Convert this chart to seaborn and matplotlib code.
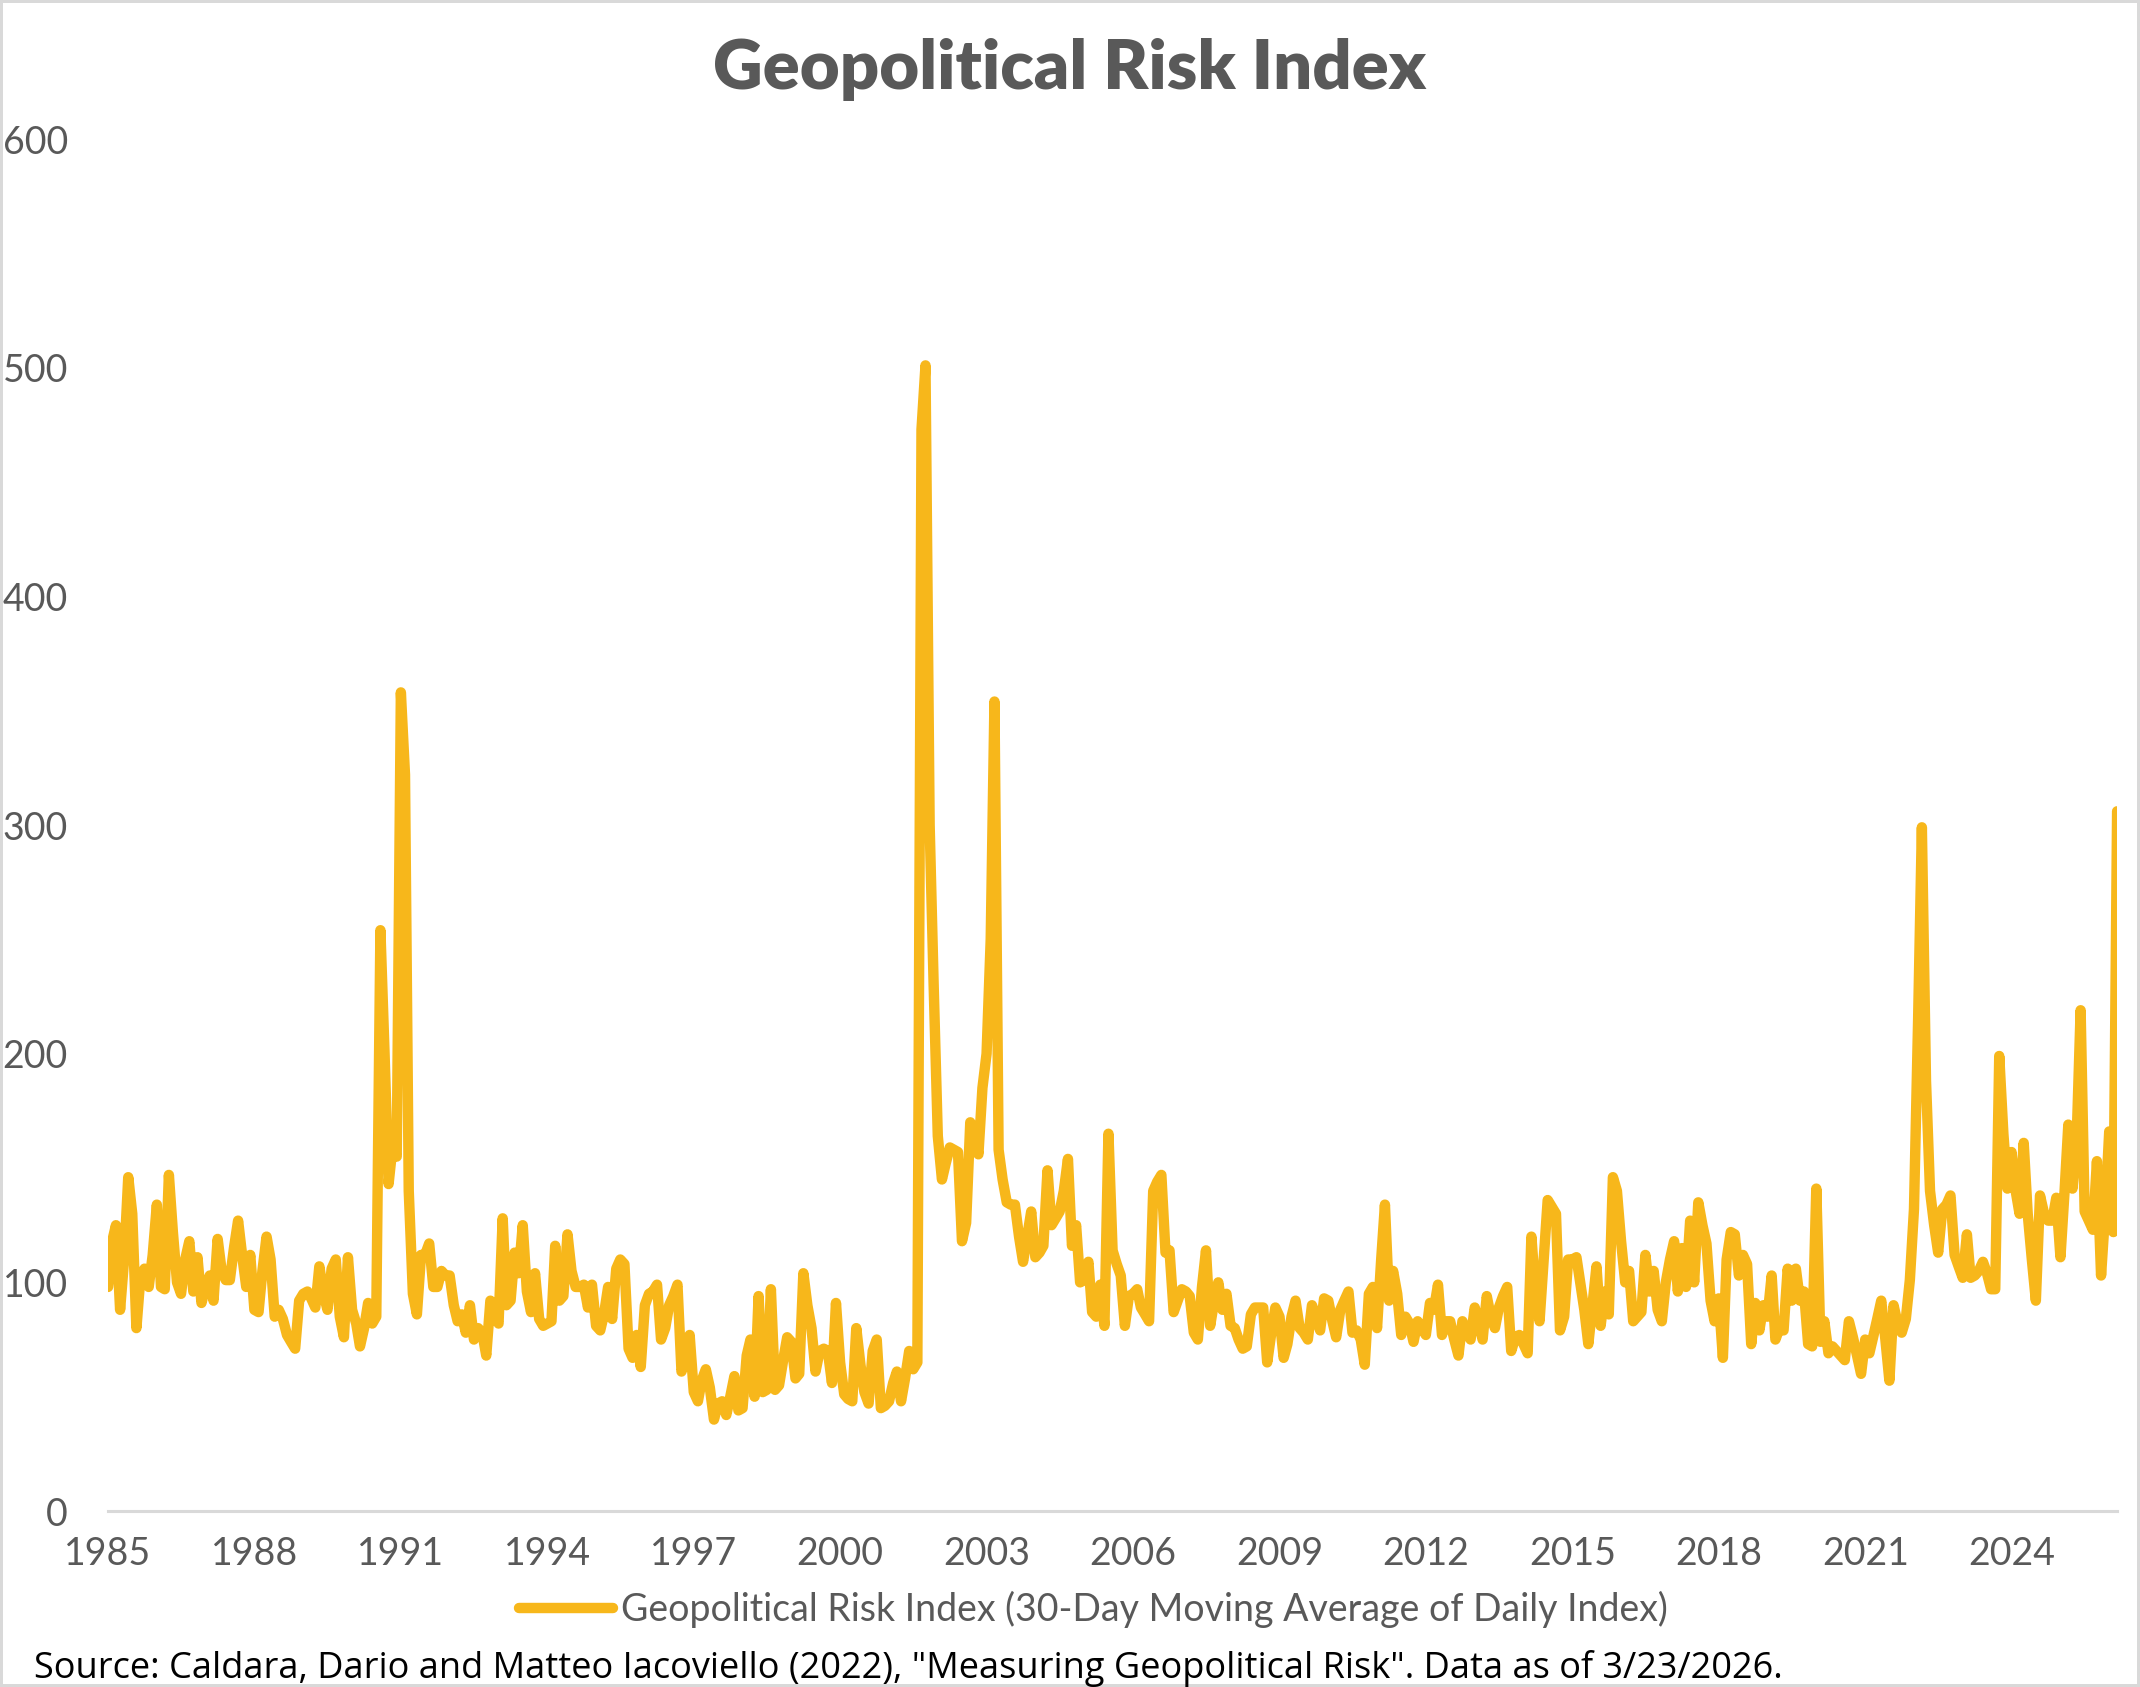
import pandas as pd
import matplotlib
matplotlib.use('Agg')
import matplotlib.pyplot as plt
import matplotlib.dates as mdates
import seaborn as sns

# Monthly readings of the Geopolitical Risk Index (30-day moving average)
gpr_1985_1989 = [
    98, 118, 125, 88, 110, 146, 130, 80, 103, 106, 98, 112,
    134, 98, 97, 147, 122, 100, 95, 110, 118, 96, 111, 91,
    98, 103, 92, 119, 105, 101, 101, 115, 127, 112, 98, 112,
    88, 87, 105, 120, 110, 85, 88, 84, 77, 74, 71, 92,
    95, 96, 93, 89, 107, 95, 88, 106, 110, 85, 76, 111,
]
gpr_1990_1994 = [
    88, 82, 72, 80, 91, 82, 85, 254, 200, 143, 160, 155,
    358, 322, 140, 95, 86, 112, 112, 117, 98, 98, 105, 103,
    103, 90, 83, 86, 78, 90, 75, 80, 78, 68, 92, 86,
    82, 128, 90, 92, 113, 104, 125, 96, 87, 104, 84, 81,
    82, 83, 116, 92, 94, 121, 105, 98, 98, 99, 89, 99,
]
gpr_1995_1999 = [
    81, 79, 86, 98, 84, 106, 110, 108, 71, 67, 77, 63,
    90, 95, 96, 99, 75, 80, 90, 94, 99, 61, 66, 77,
    52, 48, 57, 62, 54, 40, 47, 48, 42, 50, 59, 44,
    45, 68, 75, 50, 94, 52, 53, 97, 53, 55, 66, 76,
    74, 58, 60, 104, 90, 80, 61, 70, 71, 70, 56, 91,
]
gpr_2000_2004 = [
    65, 51, 49, 48, 80, 64, 52, 47, 70, 75, 45, 46,
    48, 56, 61, 48, 58, 70, 62, 65, 473, 501, 300, 230,
    164, 145, 152, 159, 158, 157, 118, 126, 170, 166, 156, 185,
    200, 250, 354, 158, 145, 135, 134, 134, 120, 109, 120, 131,
    111, 113, 116, 149, 125, 128, 131, 140, 154, 116, 125, 100,
]
gpr_2005_2009 = [
    101, 109, 87, 85, 99, 81, 165, 114, 108, 103, 81, 94,
    95, 97, 89, 86, 83, 140, 144, 147, 113, 114, 87, 92,
    97, 96, 94, 78, 75, 98, 114, 81, 92, 100, 88, 95,
    81, 80, 75, 71, 72, 86, 89, 89, 89, 65, 78, 89,
    85, 67, 73, 85, 92, 80, 78, 75, 90, 85, 79, 93,
]
gpr_2010_2014 = [
    92, 83, 76, 88, 92, 96, 78, 79, 75, 64, 95, 98,
    80, 110, 134, 92, 105, 95, 77, 85, 82, 74, 83, 80,
    77, 91, 88, 99, 77, 83, 83, 75, 68, 83, 78, 75,
    89, 82, 75, 94, 85, 80, 89, 94, 98, 70, 76, 77,
    73, 69, 120, 95, 83, 110, 136, 133, 130, 79, 85, 110,
]
gpr_2015_2019 = [
    110, 111, 100, 88, 73, 90, 107, 81, 96, 86, 146, 140,
    118, 100, 105, 83, 85, 87, 112, 96, 105, 88, 83, 100,
    110, 118, 96, 115, 98, 127, 100, 135, 125, 117, 92, 83,
    93, 67, 110, 122, 121, 103, 112, 108, 73, 91, 79, 90,
    85, 103, 75, 80, 79, 106, 92, 106, 92, 96, 73, 72,
]
gpr_2020_2026 = [
    141, 74, 83, 69, 72, 70, 68, 66, 83, 76, 68, 60,
    75, 69, 76, 84, 92, 75, 57, 90, 82, 78, 84, 101,
    132, 215, 299, 188, 140, 125, 113, 132, 134, 138, 112, 107,
    102, 121, 102, 103, 105, 109, 104, 97, 97, 199, 165, 141,
    157, 140, 130, 161, 130, 110, 92, 138, 130, 127, 127, 137,
    111, 140, 169, 141, 160, 219, 131, 127, 123, 153, 103, 130,
    166, 122, 306,
]

y_ticks = [0, 100, 200, 300, 400, 500, 600]
x_tick_years = [1985, 1988, 1991, 1994, 1997, 2000, 2003, 2006,
                2009, 2012, 2015, 2018, 2021, 2024]
series_label = 'Geopolitical Risk Index (30-Day Moving Average of Daily Index)'
title_text = 'Geopolitical Risk Index'
source_text = ('Source: Caldara, Dario and Matteo Iacoviello (2022), '
               '"Measuring Geopolitical Risk". Data as of 3/23/2026.')

gpr_values = (gpr_1985_1989 + gpr_1990_1994 + gpr_1995_1999 + gpr_2000_2004
              + gpr_2005_2009 + gpr_2010_2014 + gpr_2015_2019 + gpr_2020_2026)
df = pd.DataFrame({
    'date': pd.date_range('1985-01-01', periods=len(gpr_values), freq='MS'),
    'value': gpr_values,
})

sns.set_theme(style='white')
plt.rcParams['font.family'] = ['Lato', 'DejaVu Sans']

TEXT = '#595959'
GRID = '#d9d9d9'
GOLD = '#F7B71B'

fig = plt.figure(figsize=(21.4, 16.87), dpi=100, edgecolor=GRID, linewidth=4)
ax = fig.add_axes([0.0505, 0.1043, 0.9388, 0.8133])

sns.lineplot(data=df, x='date', y='value', ax=ax, color=GOLD, linewidth=7.5,
             label=series_label, legend=False)
ax.lines[0].set_solid_joinstyle('round')
ax.lines[0].set_solid_capstyle('round')

ax.set_xlim(df['date'].iloc[0], df['date'].iloc[-1])
ax.set_ylim(0, 600)
ax.set_yticks(y_ticks)
ax.set_xticks([pd.Timestamp(year=y, month=1, day=1) for y in x_tick_years])
ax.xaxis.set_major_formatter(mdates.DateFormatter('%Y'))
ax.set_xlabel('')
ax.set_ylabel('')

for side in ['top', 'right', 'left']:
    ax.spines[side].set_visible(False)
ax.spines['bottom'].set_color(GRID)
ax.spines['bottom'].set_linewidth(2.2)
ax.tick_params(axis='x', colors=GRID, length=8, width=1.6, direction='out',
               labelcolor=TEXT, labelsize=27, pad=10)
ax.tick_params(axis='y', length=0, labelcolor=TEXT, labelsize=27, pad=29)
ax.grid(False)

fig.text(0.5, 0.9475, title_text, ha='center', va='baseline', fontsize=49.5,
         fontweight='heavy', color=TEXT)

handles, labels = ax.get_legend_handles_labels()
leg = fig.legend(handles, labels, loc='center', bbox_to_anchor=(0.511, 0.046),
                 frameon=False, fontsize=27, handlelength=2.5, handletextpad=0.2,
                 labelcolor=TEXT)

fig.text(0.016, 0.011, source_text, ha='left', va='center', fontsize=26,
         color='black', family=['Open Sans', 'DejaVu Sans'])

fig.savefig('out.png', dpi=100)
